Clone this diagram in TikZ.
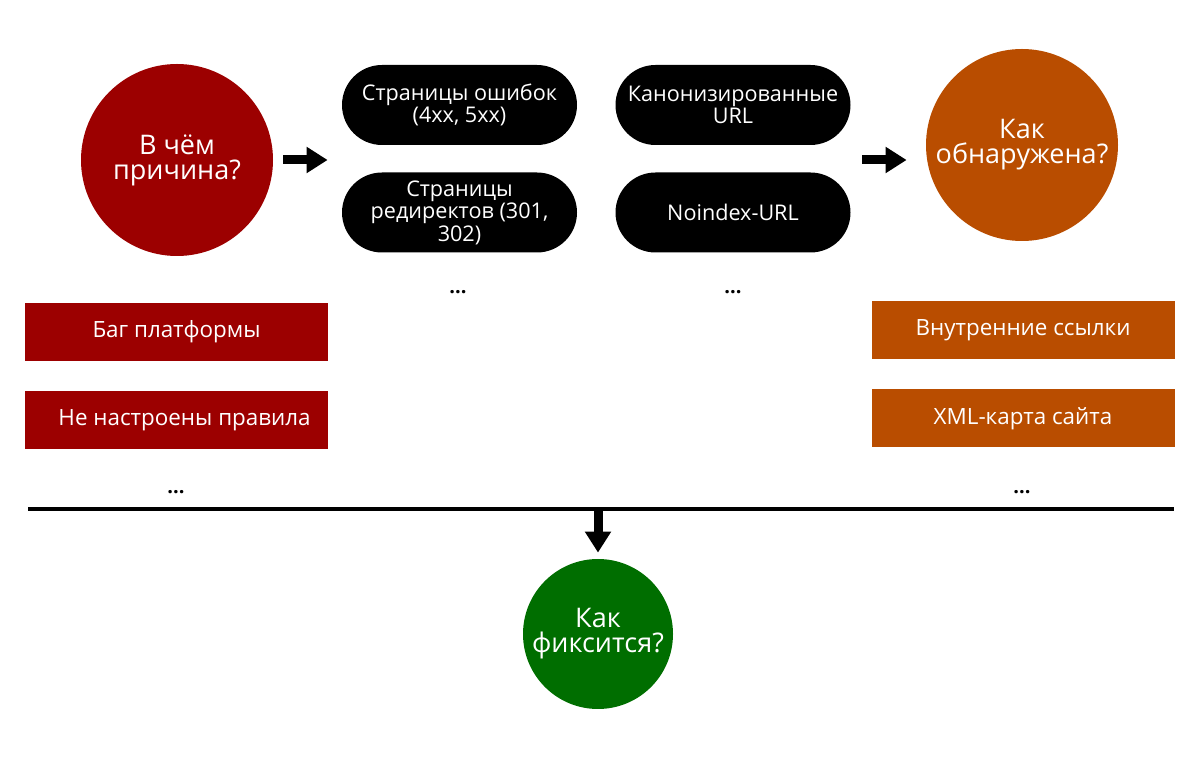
\documentclass[tikz,border=0pt]{standalone}
\usepackage{fontspec}
\setmainfont{Open Sans}
\usetikzlibrary{positioning,arrows.meta,shapes.misc}

\definecolor{causered}{HTML}{9C0000}
\definecolor{foundorange}{HTML}{B94D00}
\definecolor{fixgreen}{HTML}{006E00}

\tikzset{
    bubble/.style={circle, fill=#1, text=white, align=center, inner sep=0pt,
        font=\fontsize{13.5}{12.5}\selectfont},
    pill/.style={rounded rectangle, fill=black, text=white, align=center,
        minimum width=117.5pt, minimum height=40pt, inner sep=0pt,
        font=\fontsize{10.8}{11.2}\selectfont},
    tag/.style={rectangle, fill=#1, text=white, minimum width=151.5pt,
        minimum height=29pt, inner sep=0pt, font=\fontsize{11.2}{13}\selectfont},
    more/.style={inner sep=0pt, font=\bfseries\fontsize{10}{12}\selectfont},
    thickarrow/.style={line width=4.5pt, -{Triangle[length=10.5pt,width=12.5pt]}}
}

\begin{document}
\begin{tikzpicture}[x=0.5pt,y=-0.5pt]
    \useasboundingbox (0,0) rectangle (1200,758);

    % Cause
    \node[bubble=causered, minimum size=96pt] (cause) at (177,160) {В чём\\причина?};
    \node[tag=causered] (bug) at (176.5,332) {Баг платформы};
    \node[tag=causered] (rules) at (176.5,420) {\hspace{8pt}Не настроены правила};
    \node[more] (causemore) at (176,492) {...};

    % Page types
    \node[pill] (err) at (459.5,105) {Страницы ошибок\\(4xx, 5xx)};
    \node[pill] (redir) at (459.5,212.5) {Страницы\\редиректов (301,\\302)};
    \node[more] (pagemore) at (458,292) {...};
    \node[pill] (canon) at (733,105) {Канонизированные\\URL};
    \node[pill] (noindex) at (733,212.5) {Noindex-URL};
    \node[more] (urlmore) at (733,292) {...};

    % Detection
    \node[bubble=foundorange, minimum size=96pt] (found) at (1022,145) {Как\\обнаружена?};
    \node[tag=foundorange] (links) at (1023,330) {Внутренние ссылки};
    \node[tag=foundorange] (sitemap) at (1023,418.5) {XML-карта сайта};
    \node[more] (foundmore) at (1022,492) {...};

    % Fix
    \node[bubble=fixgreen, minimum size=75pt] (fix) at (598,634) {Как\\фиксится?};

    % Arrows
    \draw[thickarrow] ([xshift=5pt]cause.east) -- ([xshift=-7pt]cause.east -| err.west);
    \draw[thickarrow] ([xshift=5.75pt]canon.east |- cause.east) -- ([xshift=-9.5pt]found.west |- cause.east);

    % Bar
    \coordinate (barL) at (28,509);
    \coordinate (barR) at (1174,509);
    \draw[line width=2pt] (barL) -- (barR);
    \coordinate (barM) at (fix |- barL);
    \draw[thickarrow, shorten >=3pt] (barM) -- (fix.north);
\end{tikzpicture}
\end{document}
